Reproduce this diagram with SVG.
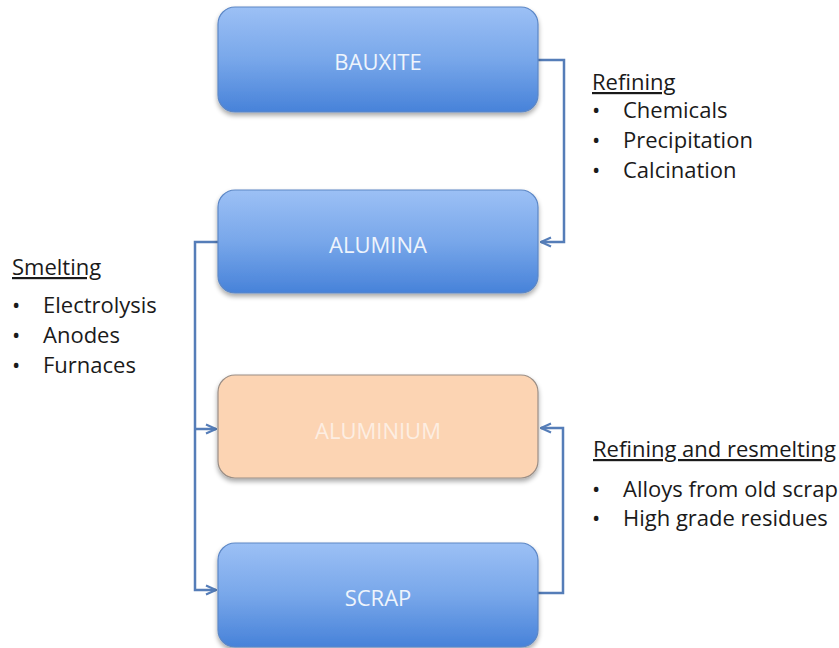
<svg xmlns="http://www.w3.org/2000/svg" width="839" height="648" viewBox="0 0 839 648">
<defs>
<linearGradient id="blue" x1="0" y1="0" x2="0" y2="1">
<stop offset="0" stop-color="#9cc0f5"/>
<stop offset="0.5" stop-color="#78a7ea"/>
<stop offset="1" stop-color="#4782d9"/>
</linearGradient>
<filter id="sh" x="-10%" y="-10%" width="120%" height="130%">
<feGaussianBlur in="SourceAlpha" stdDeviation="2.5"/>
<feOffset dy="3" result="b"/>
<feComponentTransfer><feFuncA type="linear" slope="0.35"/></feComponentTransfer>
<feMerge><feMergeNode/><feMergeNode in="SourceGraphic"/></feMerge>
</filter>
<marker id="arr" viewBox="0 0 12 12" refX="11" refY="6" markerWidth="12" markerHeight="12" markerUnits="userSpaceOnUse" orient="auto">
<path d="M1,1.5 L11,6 L1,10.5" fill="none" stroke="#557db8" stroke-width="2.2"/>
</marker>
</defs>
<style>
.box{fill:url(#blue);stroke:#5c87c6;stroke-width:1.2;filter:url(#sh)}
.peach{fill:#fcd4b3;stroke:#9a8e86;stroke-width:1.2;filter:url(#sh)}
.bt{font-family:"Open Sans","Liberation Sans",sans-serif;font-size:22px;fill:#eef4fc;text-anchor:middle}
.pt{fill:#fdeee2}
.lbl{font-family:"Open Sans","Liberation Sans",sans-serif;font-size:22px;fill:#1a1a1a}
.u{text-decoration:underline}
.con{fill:none;stroke:#557db8;stroke-width:2.5}
</style>
<rect width="839" height="648" fill="#ffffff"/>
<g id="connectors">
<path class="con" d="M538,60 H564 V242 H541" marker-end="url(#arr)"/>
<path class="con" d="M218,242 H195 V590 H216" marker-end="url(#arr)"/>
<path class="con" d="M195,429 H216" marker-end="url(#arr)"/>
<path class="con" d="M538,593 H563 V428 H541" marker-end="url(#arr)"/>
</g>
<g id="bauxite">
<rect class="box" x="218" y="7" width="320" height="105" rx="17"/>
<text class="bt" x="378" y="70">BAUXITE</text>
</g>
<g id="alumina">
<rect class="box" x="218" y="190" width="320" height="103" rx="17"/>
<text class="bt" x="378" y="253">ALUMINA</text>
</g>
<g id="aluminium">
<rect class="peach" x="218" y="375" width="320" height="103" rx="17"/>
<text class="bt pt" x="378" y="439">ALUMINIUM</text>
</g>
<g id="scrap">
<rect class="box" x="218" y="543" width="320" height="104" rx="17"/>
<text class="bt" x="378" y="606">SCRAP</text>
</g>
<g id="refining-label" class="lbl">
<text x="592" y="90" class="u">Refining</text>
<text x="592" y="118">•</text><text x="623" y="118">Chemicals</text>
<text x="592" y="148">•</text><text x="623" y="148">Precipitation</text>
<text x="592" y="178">•</text><text x="623" y="178">Calcination</text>
</g>
<g id="smelting-label" class="lbl">
<text x="12" y="275" class="u">Smelting</text>
<text x="12" y="313">•</text><text x="43" y="313">Electrolysis</text>
<text x="12" y="343">•</text><text x="43" y="343">Anodes</text>
<text x="12" y="373">•</text><text x="43" y="373">Furnaces</text>
</g>
<g id="resmelting-label" class="lbl">
<text x="593" y="457" class="u">Refining and resmelting</text>
<text x="592" y="497">•</text><text x="623" y="497">Alloys from old scrap</text>
<text x="592" y="526">•</text><text x="623" y="526">High grade residues</text>
</g>
</svg>
